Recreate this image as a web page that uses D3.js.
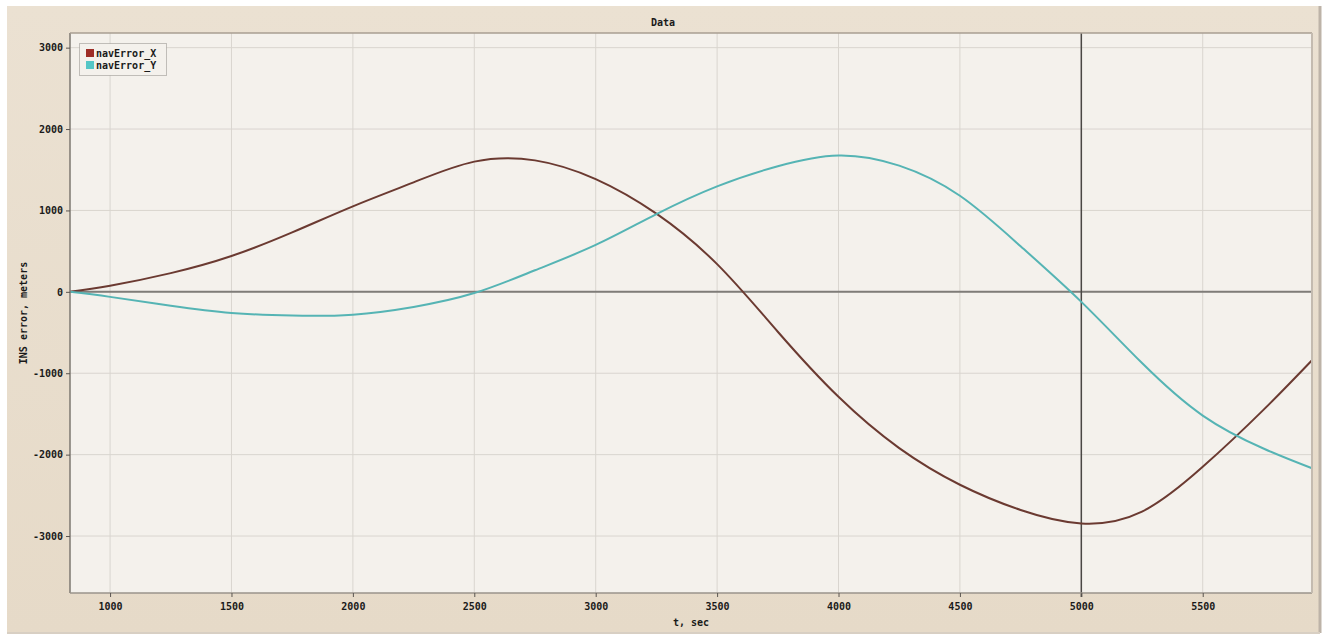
<!DOCTYPE html>
<html>
<head>
<meta charset="utf-8">
<script src="https://d3js.org/d3.v7.min.js"></script>
<style>
  body { margin: 0; background: #ffffff; }
  svg text { font-family: "DejaVu Sans Mono", monospace; font-weight: bold; fill: #1a1a1a; }
</style>
</head>
<body>
<div id="chart"></div>
<script>
// time samples (sec)
var tValues = [835, 1000, 1250, 1500, 1750, 2000, 2250, 2500, 2750, 3000, 3250, 3500, 3750,
               4000, 4250, 4500, 4750, 5000, 5250, 5500, 5750, 5950];
// INS error, meters
var navErrorX = [0, 75, 230, 440, 730, 1050, 1345, 1600, 1615, 1385, 960, 340, -490,
                 -1290, -1920, -2370, -2680, -2845, -2700, -2150, -1450, -840];
var navErrorY = [0, -62, -170, -259, -292, -280, -185, -15, 265, 576, 955, 1296, 1543,
                 1675, 1550, 1180, 560, -123, -875, -1520, -1925, -2167];
var seriesNames = ["navError_X", "navError_Y"];
var xTicks = [1000, 1500, 2000, 2500, 3000, 3500, 4000, 4500, 5000, 5500];
var yTicks = [-3000, -2000, -1000, 0, 1000, 2000, 3000];
var cursorT = 5000;

var W = 1331, H = 637;
var plot = {left: 70, right: 1312, top: 33, bottom: 593};
var colors = {line: ["#6b3a31", "#55b4b4"], swatch: ["#9e2d27", "#55c6c6"]};

var svg = d3.select("#chart").append("svg")
  .attr("width", W).attr("height", H);

// outer beige frame
var defs = svg.append("defs");
var grad = defs.append("linearGradient").attr("id", "frameGrad")
  .attr("x1", 0).attr("y1", 0).attr("x2", 0).attr("y2", 1);
grad.append("stop").attr("offset", "0%").attr("stop-color", "#ebe1d2");
grad.append("stop").attr("offset", "100%").attr("stop-color", "#e6dac8");

svg.append("rect").attr("x", 7).attr("y", 6).attr("width", 1312).attr("height", 627)
  .attr("fill", "url(#frameGrad)");
svg.append("line").attr("x1", 1320).attr("x2", 1320).attr("y1", 6).attr("y2", 633)
  .attr("stroke", "#bdb3a8").attr("stroke-width", 3);
svg.append("line").attr("x1", 7).attr("x2", 1320).attr("y1", 633).attr("y2", 633)
  .attr("stroke", "#d8cfc3").attr("stroke-width", 2);

var x = d3.scaleLinear().domain([835, 5950]).range([plot.left, plot.right]);
var y = d3.scaleLinear().domain([-3700, 3180]).range([plot.bottom, plot.top]);

// plot area
svg.append("rect")
  .attr("x", plot.left).attr("y", plot.top)
  .attr("width", plot.right - plot.left).attr("height", plot.bottom - plot.top)
  .attr("fill", "#f4f1ec");

var g = svg.append("g");

// grid
g.selectAll(".vgrid").data(xTicks).enter().append("line")
  .attr("x1", function(d) { return x(d); }).attr("x2", function(d) { return x(d); })
  .attr("y1", plot.top).attr("y2", plot.bottom)
  .attr("stroke", "#d9d5cf").attr("stroke-width", 1);
g.selectAll(".hgrid").data(yTicks).enter().append("line")
  .attr("x1", plot.left).attr("x2", plot.right)
  .attr("y1", function(d) { return y(d); }).attr("y2", function(d) { return y(d); })
  .attr("stroke", "#d9d5cf").attr("stroke-width", 1);

// zero line and cursor
g.append("line").attr("x1", plot.left).attr("x2", plot.right)
  .attr("y1", y(0)).attr("y2", y(0))
  .attr("stroke", "#7f7c78").attr("stroke-width", 2);
g.append("line").attr("x1", x(cursorT)).attr("x2", x(cursorT))
  .attr("y1", plot.top).attr("y2", plot.bottom + 4)
  .attr("stroke", "#4a4744").attr("stroke-width", 1.5);

// plot border
svg.append("line").attr("x1", plot.left).attr("x2", plot.left).attr("y1", plot.top).attr("y2", plot.bottom)
  .attr("stroke", "#7d7770").attr("stroke-width", 1.5);
svg.append("line").attr("x1", plot.left).attr("x2", plot.right).attr("y1", plot.bottom).attr("y2", plot.bottom)
  .attr("stroke", "#9a938b").attr("stroke-width", 1.5);
svg.append("line").attr("x1", plot.left).attr("x2", plot.right).attr("y1", plot.top).attr("y2", plot.top)
  .attr("stroke", "#a89e92").attr("stroke-width", 1.5);
svg.append("line").attr("x1", plot.right).attr("x2", plot.right).attr("y1", plot.top).attr("y2", plot.bottom)
  .attr("stroke", "#c4bbb0").attr("stroke-width", 2);

// axes
var fmt = function(d) { return d < 0 ? "-" + Math.abs(d) : String(d); };
var xAxis = d3.axisBottom(x).tickValues(xTicks).tickSize(4).tickPadding(6).tickFormat(fmt);
var yAxis = d3.axisLeft(y).tickValues(yTicks).tickSize(4).tickPadding(3).tickFormat(fmt);

var gx = svg.append("g").attr("transform", "translate(0," + plot.bottom + ")").call(xAxis);
var gy = svg.append("g").attr("transform", "translate(" + plot.left + ",0)").call(yAxis);
[gx, gy].forEach(function(a) {
  a.select(".domain").remove();
  a.selectAll(".tick line").attr("stroke", "#5a5550");
  a.selectAll(".tick text").style("font-size", "10px").attr("fill", "#1a1a1a");
});

// series lines
var series = [navErrorX, navErrorY];
var line = d3.line()
  .x(function(d, i) { return x(tValues[i]); })
  .y(function(d) { return y(d); })
  .curve(d3.curveNatural);

g.selectAll(".series").data(series).enter().append("path")
  .attr("d", function(d) { return line(d); })
  .attr("fill", "none")
  .attr("stroke", function(d, i) { return colors.line[i]; })
  .attr("stroke-width", 2);

// title and labels
svg.append("text").attr("x", 663).attr("y", 26).attr("text-anchor", "middle")
  .style("font-size", "10px").text("Data");
svg.append("text").attr("x", (plot.left + plot.right) / 2).attr("y", 626).attr("text-anchor", "middle")
  .style("font-size", "10px").text("t, sec");
svg.append("text")
  .attr("transform", "translate(27," + ((plot.top + plot.bottom) / 2) + ") rotate(-90)")
  .attr("text-anchor", "middle").style("font-size", "10px").text("INS error, meters");

// legend
var lg = svg.append("g");
lg.append("rect").attr("x", 79.5).attr("y", 43.5).attr("width", 87).attr("height", 32)
  .attr("fill", "#f4f1ec").attr("stroke", "#8c8884").attr("stroke-dasharray", "1,1");
seriesNames.forEach(function(name, i) {
  lg.append("rect").attr("x", 86).attr("y", 49 + i * 12).attr("width", 8).attr("height", 8)
    .attr("fill", colors.swatch[i]);
  lg.append("text").attr("x", 96).attr("y", 57 + i * 11.5)
    .style("font-size", "10px").text(name);
});
</script>
</body>
</html>
